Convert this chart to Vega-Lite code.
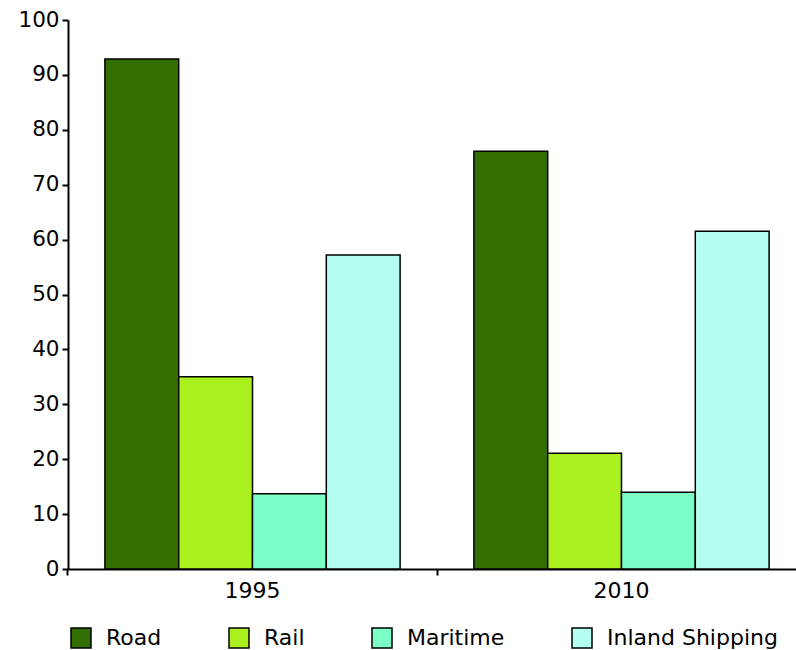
{
  "$schema": "https://vega.github.io/schema/vega-lite/v6.json",
  "width": 738,
  "height": 549,
  "autosize": {"type": "none"},
  "padding": {"left": 68, "top": 20, "right": 0, "bottom": 81},
  "background": "white",
  "data": {
    "values": [
      {"year": "1995", "mode": "Road", "value": 92.9},
      {"year": "1995", "mode": "Rail", "value": 35.0},
      {"year": "1995", "mode": "Maritime", "value": 13.7},
      {"year": "1995", "mode": "Inland Shipping", "value": 57.2},
      {"year": "2010", "mode": "Road", "value": 76.1},
      {"year": "2010", "mode": "Rail", "value": 21.1},
      {"year": "2010", "mode": "Maritime", "value": 14.0},
      {"year": "2010", "mode": "Inland Shipping", "value": 61.5}
    ]
  },
  "mark": {"type": "bar", "stroke": "black", "strokeWidth": 1.5},
  "encoding": {
    "x": {
      "field": "year",
      "type": "nominal",
      "scale": {"paddingInner": 0.2, "paddingOuter": 0.1},
      "axis": {
        "title": null,
        "labelAngle": 0,
        "bandPosition": -0.125,
        "tickSize": 6,
        "tickColor": "black",
        "tickWidth": 2,
        "domainColor": "black",
        "domainWidth": 2,
        "labelFontSize": 22,
        "labelColor": "black",
        "labelPadding": 5
      }
    },
    "xOffset": {
      "field": "mode",
      "sort": ["Road", "Rail", "Maritime", "Inland Shipping"],
      "scale": {"paddingInner": 0, "paddingOuter": 0}
    },
    "y": {
      "field": "value",
      "type": "quantitative",
      "scale": {"domain": [0, 100]},
      "axis": {
        "title": null,
        "grid": false,
        "values": [0, 10, 20, 30, 40, 50, 60, 70, 80, 90, 100],
        "tickSize": 6,
        "tickColor": "black",
        "tickWidth": 2,
        "domainColor": "black",
        "domainWidth": 2,
        "labelFontSize": 21.5,
        "labelColor": "black",
        "labelPadding": 3
      }
    },
    "color": {
      "field": "mode",
      "type": "nominal",
      "sort": ["Road", "Rail", "Maritime", "Inland Shipping"],
      "scale": {
        "domain": ["Road", "Rail", "Maritime", "Inland Shipping"],
        "range": ["#336f00", "#aaef1e", "#7cffc6", "#b4fff0"]
      },
      "legend": {
        "title": null,
        "orient": "none",
        "direction": "horizontal",
        "legendX": 2,
        "legendY": 607,
        "symbolType": "square",
        "symbolSize": 400,
        "symbolStrokeColor": "black",
        "symbolStrokeWidth": 1.5,
        "symbolOpacity": 1,
        "labelFontSize": 22,
        "labelColor": "black",
        "labelLimit": 400,
        "labelOffset": 14,
        "columnPadding": 64
      }
    }
  },
  "config": {
    "view": {"stroke": null},
    "font": "DejaVu Sans"
  }
}
